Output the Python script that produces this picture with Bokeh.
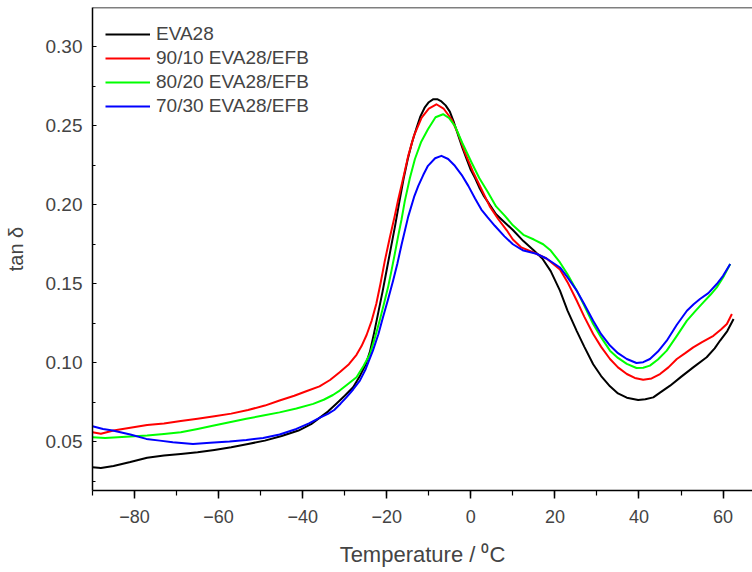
from bokeh.plotting import figure
from bokeh.models import (Range1d, SingleIntervalTicker, NumeralTickFormatter,
                          Span, Legend, LegendItem)
from bokeh.embed import file_html
from bokeh.resources import INLINE

# ---- data ----
labels = ["EVA28", "90/10 EVA28/EFB", "80/20 EVA28/EFB", "70/30 EVA28/EFB"]
colors = ["#000000", "#FF0000", "#00FF00", "#0000FF"]

eva_t = [-90, -88, -85, -81, -77, -73, -69, -65, -61, -57, -53, -49, -45, -41, -38, -36,
         -34, -32, -30, -28, -26.5, -25, -24, -23, -22, -21, -20, -19, -18, -17, -16, -15,
         -14, -13, -12, -11, -10, -9, -8, -7, -6, -5, -4, -3, -2, -1, 0, 1, 2, 3, 4, 6, 8,
         10, 12.5, 15, 17, 19, 21.2, 23, 25.2, 27, 29.1, 31, 33.1, 35, 37.1, 39.8, 41.5,
         43.4, 45, 47.4, 50, 52.9, 56.1, 58, 59.3, 61, 62.5]
eva_v = [0.0337, 0.0333, 0.0345, 0.0370, 0.0398, 0.0411, 0.0422, 0.0432, 0.0447, 0.0464,
         0.0485, 0.0506, 0.0535, 0.0570, 0.0610, 0.0650, 0.0690, 0.0740, 0.0790, 0.0844,
         0.0910, 0.0990, 0.1070, 0.1190, 0.1320, 0.1450, 0.1590, 0.1730, 0.1870, 0.2020,
         0.2165, 0.2290, 0.2395, 0.2480, 0.2560, 0.2615, 0.2650, 0.2668, 0.2669, 0.2655,
         0.2630, 0.2590, 0.2520, 0.2440, 0.2360, 0.2290, 0.2220, 0.2170, 0.2110, 0.2060,
         0.2020, 0.1940, 0.1890, 0.1840, 0.1770, 0.1710, 0.1660, 0.1580, 0.1456, 0.1330,
         0.1200, 0.1100, 0.0990, 0.0915, 0.0850, 0.0805, 0.0778, 0.0764, 0.0768, 0.0780,
         0.0810, 0.0854, 0.0910, 0.0970, 0.1034, 0.1090, 0.1140, 0.1200, 0.1277]

r90_t = [-90, -88, -85, -81, -77, -73, -69, -65, -61, -57, -53, -49, -45.5, -42, -39, -36,
         -33.5, -31.2, -29, -27.2, -26, -24.8, -23.6, -22.5, -21.5, -20.5, -19.3, -18.1,
         -17.3, -16, -14.9, -13.5, -11.7, -10, -8.2, -6.5, -4.6, -3, -1.4, 0.5, 2.5, 4.5,
         6.5, 8.5, 10, 12, 15.6, 18, 21.2, 23, 25.2, 27, 29.1, 31, 33.1, 35, 37.1, 39, 41,
         43, 45, 47, 49, 51, 52.9, 55, 57.7, 59.5, 60.9, 62.1]
r90_v = [0.0559, 0.0549, 0.0570, 0.0587, 0.0605, 0.0614, 0.0630, 0.0644, 0.0660, 0.0677,
         0.0700, 0.0728, 0.0760, 0.0790, 0.0820, 0.0850, 0.0890, 0.0939, 0.0990, 0.1050,
         0.1105, 0.1175, 0.1265, 0.1372, 0.1500, 0.1640, 0.1790, 0.1930, 0.2030, 0.2180,
         0.2310, 0.2440, 0.2553, 0.2610, 0.2637, 0.2610, 0.2542, 0.2450, 0.2330, 0.2210,
         0.2100, 0.1990, 0.1910, 0.1840, 0.1780, 0.1730, 0.1690, 0.1660, 0.1590, 0.1510,
         0.1392, 0.1290, 0.1182, 0.1100, 0.1023, 0.0970, 0.0928, 0.0903, 0.0892, 0.0900,
         0.0928, 0.0970, 0.1023, 0.1060, 0.1097, 0.1130, 0.1170, 0.1210, 0.1245, 0.1308]

r80_t = [-90, -87, -82, -77, -73, -69, -65, -61.4, -57.4, -53.4, -49.4, -45.5, -41.5,
         -37.5, -35, -32.8, -31.2, -29, -27.2, -25.5, -24, -22.8, -21.7, -20.7, -19.7,
         -18.9, -18.1, -17.3, -16.5, -15.7, -14.5, -13.3, -11.8, -10.2, -8.4, -6.6, -5.2,
         -3.8, -2, 0.17, 2, 4.1, 6, 8.1, 10, 12.5, 15, 17.2, 19, 21.2, 23, 25.2, 27, 29.1,
         31, 33.1, 35, 37.1, 39.4, 41, 42.6, 44.5, 46.6, 49, 51.4, 53.5, 55.3, 57, 58.5,
         60, 61.7]
r80_v = [0.0527, 0.0522, 0.0530, 0.0538, 0.0548, 0.0559, 0.0580, 0.0600, 0.0622, 0.0644,
         0.0665, 0.0685, 0.0710, 0.0739, 0.0765, 0.0795, 0.0823, 0.0870, 0.0907, 0.0980,
         0.1055, 0.1160, 0.1266, 0.1370, 0.1477, 0.1580, 0.1688, 0.1800, 0.1905, 0.2025,
         0.2170, 0.2290, 0.2400, 0.2479, 0.2555, 0.2574, 0.2550, 0.2500, 0.2390, 0.2268,
         0.2170, 0.2078, 0.1990, 0.1930, 0.1870, 0.1810, 0.1780, 0.1750, 0.1710, 0.1635,
         0.1560, 0.1456, 0.1360, 0.1245, 0.1160, 0.1076, 0.1030, 0.0992, 0.0966, 0.0968,
         0.0981, 0.1020, 0.1076, 0.1170, 0.1266, 0.1330, 0.1382, 0.1430, 0.1477, 0.1540,
         0.1625]

r70_t = [-90, -87.5, -85.2, -81, -77.2, -74, -70.9, -66.1, -62, -57.4, -53.4, -49.4,
         -45.5, -41.5, -38.5, -36, -34, -32.5, -31, -29.6, -28, -26.4, -25, -23.3, -22,
         -20.9, -19.7, -18.5, -17.5, -16.5, -14.9, -13.5, -12.5, -11.3, -10.2, -8.5, -7,
         -5.4, -3.8, -2.2, -0.6, 1, 2.5, 4, 5.7, 8, 10, 12.5, 15.6, 18, 21.2, 23, 25.2, 27,
         29.1, 31, 33.1, 35, 37.1, 39.4, 41, 42.6, 44.5, 46.6, 49, 51.4, 53, 54.5, 56.5,
         58.5, 60, 61.7]
r70_v = [0.0597, 0.0580, 0.0570, 0.0545, 0.0517, 0.0506, 0.0496, 0.0485, 0.0492, 0.0500,
         0.0510, 0.0523, 0.0545, 0.0580, 0.0615, 0.0650, 0.0675, 0.0700, 0.0740, 0.0780,
         0.0830, 0.0886, 0.0960, 0.1076, 0.1180, 0.1287, 0.1400, 0.1519, 0.1625, 0.1745,
         0.1925, 0.2050, 0.2120, 0.2190, 0.2247, 0.2295, 0.2310, 0.2290, 0.2247, 0.2190,
         0.2120, 0.2040, 0.1970, 0.1920, 0.1867, 0.1800, 0.1750, 0.1710, 0.1690, 0.1660,
         0.1603, 0.1540, 0.1456, 0.1370, 0.1266, 0.1180, 0.1108, 0.1060, 0.1023, 0.0998,
         0.1003, 0.1023, 0.1070, 0.1139, 0.1240, 0.1329, 0.1370, 0.1403, 0.1440, 0.1498,
         0.1550, 0.1625]

series_t = [eva_t, r90_t, r80_t, r70_t]
series_v = [eva_v, r90_v, r80_v, r70_v]

x_start, x_end = -90, 67
y_start, y_end = 0.019, 0.325

FONT = "Liberation Sans"

p = figure(width=752, height=572, output_backend="svg", toolbar_location=None,
           x_range=Range1d(x_start, x_end), y_range=Range1d(y_start, y_end),
           min_border_left=92, min_border_right=0, min_border_top=7,
           min_border_bottom=82)
p.xgrid.grid_line_color = None
p.ygrid.grid_line_color = None
p.outline_line_color = None
p.background_fill_color = "white"
p.border_fill_color = "white"

renderers = []
for t, v, c in zip(series_t, series_v, colors):
    r = p.line(t, v, line_color=c, line_width=2, line_join="round")
    renderers.append(r)

# top frame line
p.add_layout(Span(location=y_end, dimension="width", line_color="black", line_width=1.5))

# x axis
xa = p.xaxis[0]
xa.ticker = SingleIntervalTicker(interval=20, num_minor_ticks=2)
xa.axis_label = "Temperature / \u2070C"
xa.axis_label_text_font = FONT
xa.axis_label_text_font_size = "22px"
xa.axis_label_text_font_style = "normal"
xa.axis_label_standoff = 16
xa.major_label_text_font = FONT
xa.major_label_text_font_size = "18px"
xa.major_label_standoff = 11
xa.major_tick_out = 8
xa.major_tick_in = 0
xa.minor_tick_out = 5
xa.minor_tick_in = 0
xa.axis_line_width = 1.5
xa.major_tick_line_width = 1.5
xa.minor_tick_line_width = 1.2

# y axis
ya = p.yaxis[0]
ya.ticker = SingleIntervalTicker(interval=0.05, num_minor_ticks=2)
ya.formatter = NumeralTickFormatter(format="0.00")
ya.axis_label = "tan \u03b4"
ya.axis_label_text_font = FONT
ya.axis_label_text_font_size = "20px"
ya.axis_label_text_font_style = "normal"
ya.axis_label_standoff = 16
ya.major_label_text_font = FONT
ya.major_label_text_font_size = "19px"
ya.major_label_standoff = 10
ya.major_tick_in = 4
ya.major_tick_out = 0
ya.minor_tick_in = 3
ya.minor_tick_out = 0
ya.axis_line_width = 1.5
ya.major_tick_line_width = 1.2
ya.minor_tick_line_width = 1.0

legend = Legend(items=[LegendItem(label=l, renderers=[r]) for l, r in zip(labels, renderers)],
                location=(13, 373), margin=0, padding=0, spacing=2,
                glyph_width=45, glyph_height=20, label_height=20, label_standoff=6,
                label_text_font=FONT, label_text_font_size="19px",
                background_fill_alpha=0, border_line_color=None)
p.add_layout(legend)

open("out.html", "w").write(file_html(p, INLINE))
